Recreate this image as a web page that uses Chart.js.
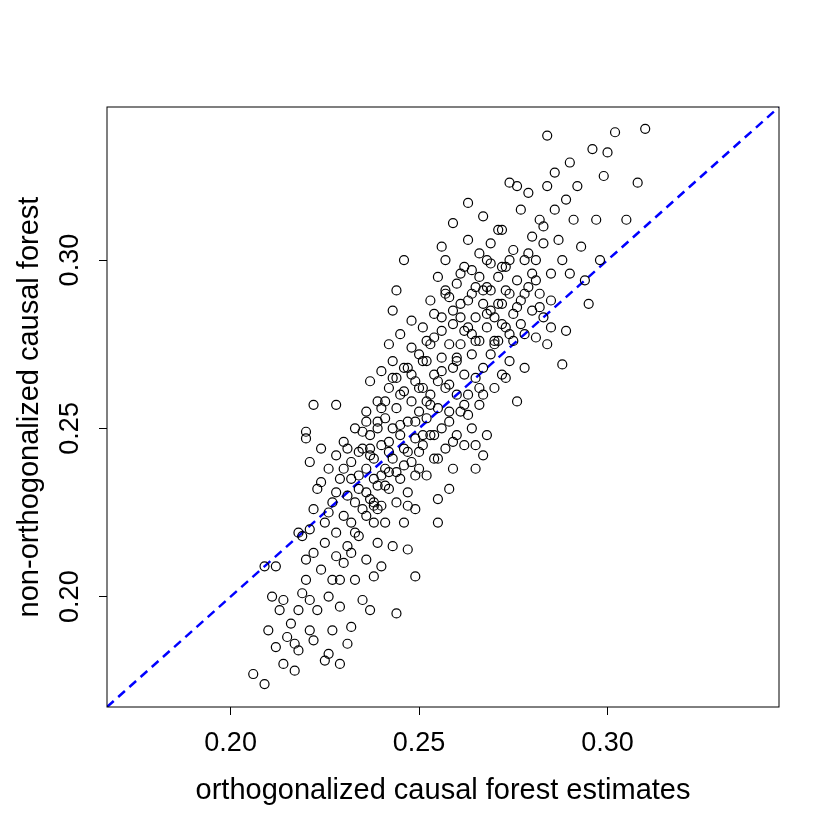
<!DOCTYPE html>
<html>
<head>
<meta charset="utf-8">
<script src="https://cdn.jsdelivr.net/npm/chart.js@4/dist/chart.umd.min.js"></script>
<style>
  body { margin: 0; background: #fff; }
  #wrap { width: 840px; height: 840px; }
</style>
</head>
<body>
<div id="wrap"><canvas id="plot"></canvas></div>
<script>
// orthogonalized estimates (x) vs non-orthogonalized estimates (y)
const orthoX = [
  0.206,0.209,0.210,0.211,0.212,0.213,0.214,0.215,0.216,0.214,0.212,0.209,
  0.217,0.218,0.218,0.219,0.219,0.220,0.220,0.221,0.221,0.221,0.222,0.222,0.220,0.220,0.222,0.221,0.218,0.217,
  0.223,0.223,0.224,0.224,0.225,0.225,0.225,0.226,0.226,0.227,0.227,0.227,0.228,0.228,0.228,0.229,0.229,0.230,0.230,0.230,0.222,0.228,0.226,0.229,0.231,0.232,
  0.231,0.231,0.232,0.232,0.233,0.233,0.234,0.234,0.235,0.235,0.235,0.236,0.236,0.236,0.237,0.237,0.237,0.238,0.238,0.238,0.239,0.239,0.239,0.240,0.240,0.240,0.233,0.234,0.236,0.238,0.239,0.232,0.237,0.240,
  0.241,0.241,0.241,0.242,0.242,0.242,0.243,0.243,0.243,0.244,0.244,0.244,0.245,0.245,0.245,0.246,0.246,0.246,0.247,0.247,0.247,0.248,0.248,0.248,0.249,0.249,0.249,0.250,0.250,0.250,0.244,0.247,0.249,0.243,0.246,0.242,
  0.251,0.251,0.251,0.252,0.252,0.252,0.253,0.253,0.253,0.254,0.254,0.254,0.255,0.255,0.255,0.256,0.256,0.256,0.257,0.257,0.257,0.258,0.258,0.258,0.259,0.259,0.259,0.260,0.260,0.260,0.256,0.259,0.255,0.258,
  0.261,0.261,0.261,0.262,0.262,0.262,0.263,0.263,0.263,0.264,0.264,0.264,0.265,0.265,0.265,0.266,0.266,0.266,0.267,0.267,0.267,0.268,0.268,0.268,0.269,0.269,0.270,0.270,0.263,0.265,0.267,0.269,
  0.271,0.271,0.272,0.272,0.272,0.273,0.273,0.274,0.274,0.274,0.275,0.275,0.276,0.276,0.277,0.277,0.278,0.278,0.279,0.279,0.280,0.280,0.276,0.273,0.278,0.280,
  0.281,0.281,0.282,0.282,0.283,0.283,0.284,0.284,0.285,0.285,0.286,0.286,0.287,0.288,0.288,0.289,0.289,0.290,0.290,0.284,
  0.291,0.292,0.293,0.294,0.295,0.296,0.297,0.299,0.300,0.302,0.305,0.308,0.310,0.298,
  // denser core
  0.234,0.235,0.236,0.237,0.238,0.239,0.240,0.241,0.242,0.243,0.244,0.245,0.246,0.247,0.248,0.249,0.250,0.251,0.252,0.253,
  0.254,0.255,0.256,0.257,0.258,0.259,0.260,0.261,0.262,0.263,0.264,0.265,0.266,0.267,0.268,0.269,0.270,0.271,0.272,0.273,
  0.236,0.238,0.240,0.242,0.244,0.246,0.248,0.250,0.252,0.254,0.256,0.258,0.260,0.262,0.264,0.266,0.268,0.270,0.272,0.274,
  0.237,0.239,0.241,0.243,0.245,0.247,0.249,0.251,0.253,0.255,0.257,0.259,0.261,0.263,0.265,0.267,0.269,0.271,0.275,0.277,
  0.228,0.230,0.232,0.233,0.231,0.229,0.226,0.224,0.279,0.281,0.283,0.285,0.282,0.278,0.276,0.274
];
const nonOrthoY = [
  0.177,0.174,0.190,0.200,0.185,0.196,0.180,0.188,0.192,0.199,0.209,0.209,
  0.178,0.184,0.196,0.201,0.218,0.211,0.205,0.199,0.190,0.220,0.187,0.213,0.249,0.247,0.226,0.240,0.219,0.186,
  0.196,0.232,0.244,0.208,0.216,0.222,0.181,0.200,0.238,0.228,0.205,0.190,0.212,0.242,0.219,0.235,0.197,0.224,0.210,0.246,0.257,0.257,0.183,0.180,0.186,0.191,
  0.230,0.215,0.240,0.222,0.205,0.250,0.232,0.218,0.244,0.226,0.199,0.255,0.238,0.211,0.229,0.248,0.264,0.222,0.241,0.206,0.233,0.258,0.216,0.245,0.227,0.267,0.228,0.243,0.224,0.235,0.250,0.213,0.196,0.209,
  0.238,0.253,0.222,0.262,0.232,0.246,0.215,0.270,0.241,0.256,0.228,0.291,0.248,0.235,0.278,0.261,0.222,0.244,0.252,0.268,0.231,0.258,0.240,0.282,0.247,0.264,0.226,0.255,0.272,0.238,0.195,0.214,0.206,0.285,0.300,0.275,
  0.262,0.245,0.280,0.253,0.270,0.236,0.288,0.260,0.248,0.266,0.241,0.277,0.256,0.295,0.229,0.271,0.250,0.283,0.262,0.244,0.300,0.275,0.255,0.289,0.268,0.238,0.281,0.260,0.293,0.248,0.304,0.311,0.222,0.232,
  0.275,0.255,0.287,0.266,0.298,0.245,0.280,0.260,0.306,0.272,0.290,0.250,0.283,0.265,0.238,0.295,0.276,0.257,0.287,0.268,0.313,0.280,0.300,0.248,0.272,0.291,0.283,0.262,0.317,0.245,0.242,0.305,
  0.295,0.276,0.287,0.266,0.309,0.280,0.298,0.290,0.270,0.323,0.284,0.303,0.294,0.258,0.288,0.315,0.300,0.278,0.292,0.320,0.285,0.307,0.322,0.265,0.268,0.296,
  0.300,0.277,0.312,0.290,0.283,0.305,0.337,0.322,0.296,0.288,0.315,0.326,0.306,0.300,0.269,0.279,0.318,0.329,0.296,0.275,
  0.312,0.322,0.304,0.294,0.287,0.333,0.312,0.325,0.332,0.338,0.312,0.323,0.339,0.300,
  0.236,0.249,0.231,0.244,0.227,0.252,0.236,0.258,0.243,0.265,0.237,0.251,0.268,0.243,0.274,0.252,0.262,0.248,0.276,0.257,
  0.284,0.264,0.279,0.291,0.263,0.285,0.271,0.296,0.279,0.288,0.297,0.276,0.302,0.291,0.284,0.299,0.276,0.309,0.298,0.291,
  0.252,0.228,0.256,0.237,0.265,0.239,0.266,0.243,0.258,0.248,0.267,0.252,0.270,0.257,0.278,0.262,0.292,0.275,0.281,0.300,
  0.242,0.226,0.233,0.250,0.260,0.227,0.236,0.270,0.275,0.241,0.290,0.246,0.283,0.254,0.292,0.260,0.285,0.287,0.276,0.281,
  0.231,0.238,0.235,0.219,0.244,0.205,0.225,0.234,0.302,0.294,0.310,0.280,0.286,0.290,0.286,0.278
];
const tickValues = [0.20, 0.25, 0.30];
const axisMin = 0.1672;
const axisMax = 0.3455;

const points = orthoX.map((x, i) => ({ x: x, y: nonOrthoY[i] }));
const fontFamily = "'Liberation Sans', Arial, sans-serif";

const frameAndLabels = {
  id: "frameAndLabels",
  afterDraw(chart) {
    const { ctx, chartArea: a, scales } = chart;
    ctx.save();
    ctx.strokeStyle = "#000";
    ctx.lineWidth = 1;
    ctx.strokeRect(a.left, a.top, a.right - a.left, a.bottom - a.top);
    ctx.fillStyle = "#000";
    ctx.font = "27px " + fontFamily;
    ctx.textAlign = "center";
    ctx.textBaseline = "middle";
    tickValues.forEach(v => {
      const py = scales.y.getPixelForValue(v);
      ctx.save();
      ctx.translate(a.left - 36, py);
      ctx.rotate(-Math.PI / 2);
      ctx.fillText(v.toFixed(2), 0, 0);
      ctx.restore();
    });
    ctx.font = "29px " + fontFamily;
    ctx.translate(30, (a.top + a.bottom) / 2);
    ctx.rotate(-Math.PI / 2);
    ctx.fillText("non-orthogonalized causal forest", 0, 0);
    ctx.restore();
  }
};

new Chart(document.getElementById("plot").getContext("2d"), {
  type: "scatter",
  data: {
    datasets: [
      {
        data: points,
        pointRadius: 4.5,
        pointBackgroundColor: "rgba(0,0,0,0)",
        pointBorderColor: "#000",
        pointBorderWidth: 1.2,
        showLine: false
      },
      {
        type: "line",
        data: [{ x: axisMin, y: axisMin }, { x: axisMax, y: axisMax }],
        borderColor: "#0000ff",
        borderWidth: 2.5,
        borderDash: [9, 6],
        pointRadius: 0,
        fill: false
      }
    ]
  },
  options: {
    responsive: true,
    maintainAspectRatio: false,
    animation: false,
    layout: { padding: { top: 107, right: 61, left: 0, bottom: 0 } },
    plugins: { legend: { display: false }, tooltip: { enabled: false } },
    scales: {
      x: {
        type: "linear",
        min: axisMin,
        max: axisMax,
        afterBuildTicks: s => { s.ticks = tickValues.map(v => ({ value: v })); },
        afterFit: s => { s.height = 133; },
        grid: { drawOnChartArea: false, drawTicks: true, tickLength: 8, color: "#000" },
        border: { display: false },
        ticks: {
          color: "#000",
          padding: 12,
          font: { size: 27, family: fontFamily },
          callback: v => v.toFixed(2)
        },
        title: {
          display: true,
          text: "orthogonalized causal forest estimates",
          color: "#000",
          font: { size: 29, family: fontFamily },
          padding: { top: 0, bottom: 32 }
        }
      },
      y: {
        type: "linear",
        min: axisMin,
        max: axisMax,
        afterBuildTicks: s => { s.ticks = tickValues.map(v => ({ value: v })); },
        afterFit: s => { s.width = 107; },
        grid: { drawOnChartArea: false, drawTicks: true, tickLength: 8, color: "#000" },
        border: { display: false },
        ticks: { display: false }
      }
    }
  },
  plugins: [frameAndLabels]
});
</script>
</body>
</html>
